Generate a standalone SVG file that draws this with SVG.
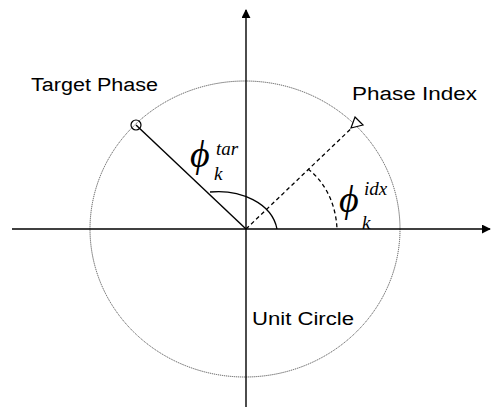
<svg xmlns="http://www.w3.org/2000/svg" width="492" height="407" viewBox="0 0 492 407">
<style>
.lbl{font-family:"Liberation Sans",Arial,sans-serif;font-size:18px;fill:#000}
.math{font-family:"Liberation Serif","DejaVu Serif","Times New Roman",serif;font-style:italic;fill:#000}
.big{font-size:38px}
.sm{font-size:19px}
.ax{stroke:#000;stroke-width:1.4;fill:none}
</style>
<defs>
<marker id="arr" viewBox="0 0 10 10" refX="9" refY="5" markerWidth="9" markerHeight="9" markerUnits="userSpaceOnUse" orient="auto">
<path d="M0,0 L10,5 L0,10 z" fill="#000"/>
</marker>
</defs>
<rect width="492" height="407" fill="#fff"/>
<g id="unit-circle">
<ellipse cx="245" cy="229" rx="155" ry="148" fill="none" stroke="#555" stroke-width="1" stroke-dasharray="1.2 0.8"/>
</g>
<g id="connectors">
<line class="ax" x1="12" y1="229" x2="490" y2="229" marker-end="url(#arr)"/>
<line class="ax" x1="246" y1="407" x2="246" y2="10" marker-end="url(#arr)"/>
<line x1="136" y1="125" x2="246" y2="229" stroke="#000" stroke-width="1.4"/>
<line x1="246" y1="229" x2="357" y2="123" stroke="#000" stroke-width="1.3" stroke-dasharray="4 3"/>
<path d="M210 192 C240 189 272 203 277 229" fill="none" stroke="#000" stroke-width="1.3"/>
<path d="M308 169 C325 182 336 204 337 229" fill="none" stroke="#000" stroke-width="1.3" stroke-dasharray="4 3"/>
</g>
<g id="target-phase">
<circle cx="136" cy="125" r="5" fill="none" stroke="#000" stroke-width="1.2"/>
<text class="lbl" x="31" y="91" textLength="127" lengthAdjust="spacingAndGlyphs">Target Phase</text>
</g>
<g id="phase-index">
<polygon points="355,117 363,125 351,128" fill="#fff" stroke="#000" stroke-width="1.2"/>
<text class="lbl" x="352" y="100" textLength="125" lengthAdjust="spacingAndGlyphs">Phase Index</text>
</g>
<g id="unit-circle-label">
<text class="lbl" x="252" y="325" textLength="102" lengthAdjust="spacingAndGlyphs">Unit Circle</text>
</g>
<g id="phi-tar">
<text class="math"><tspan class="big" x="190" y="167">ϕ</tspan><tspan class="sm" x="214" y="180">k</tspan><tspan class="sm" x="216" y="155">tar</tspan></text>
</g>
<g id="phi-idx">
<text class="math"><tspan class="big" x="339" y="212">ϕ</tspan><tspan class="sm" x="362" y="229">k</tspan><tspan class="sm" x="364" y="195">idx</tspan></text>
</g>
</svg>
